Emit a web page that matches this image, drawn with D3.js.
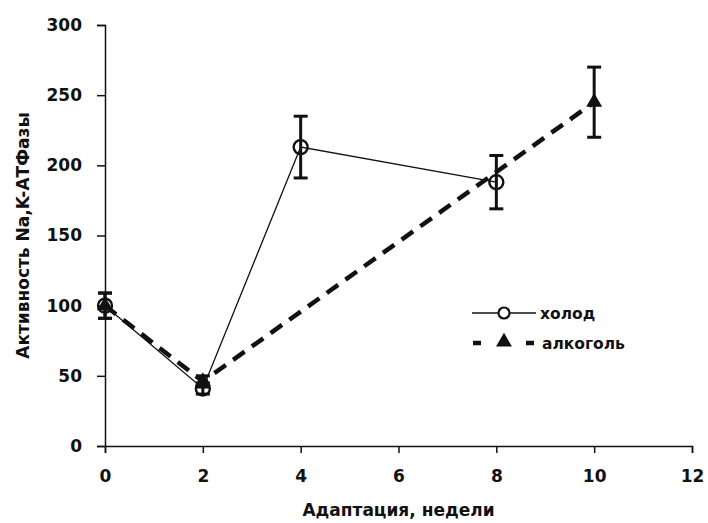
<!DOCTYPE html>
<html>
<head>
<meta charset="utf-8">
<script src="https://cdn.jsdelivr.net/npm/d3@7"></script>
<style>
  body { margin:0; background:#fff; }
  text { font-family: "DejaVu Sans", Verdana, sans-serif; font-weight:bold; fill:#111; }
</style>
</head>
<body>
<div id="chart"></div>
<script>
// data
var coldWeeks = [0, 2, 4, 8];
var coldValues = [100, 41, 213, 188];
var coldErr = [9, 4, 22, 19];

var alcWeeks = [0, 2, 10];
var alcValues = [100, 46, 245];
var alcErr = [9, 4, 25];

var xTicks = [0, 2, 4, 6, 8, 10, 12];
var yTicks = [0, 50, 100, 150, 200, 250, 300];

var width = 708, height = 523;
var margin = {left:105, right:16, top:25, bottom:77};

var svg = d3.select('#chart').append('svg')
    .attr('width', width).attr('height', height);

var x = d3.scaleLinear().domain([0, 12]).range([margin.left, width - margin.right]);
var y = d3.scaleLinear().domain([0, 300]).range([height - margin.bottom, margin.top]);

// axes
var xAxis = svg.append('g')
    .attr('transform', 'translate(0,' + y(0) + ')')
    .call(d3.axisBottom(x).tickValues(xTicks).tickSize(7).tickPadding(17));
var yAxis = svg.append('g')
    .attr('transform', 'translate(' + x(0) + ',0)')
    .call(d3.axisLeft(y).tickValues(yTicks).tickSize(8).tickPadding(15));

[xAxis, yAxis].forEach(function(a){
    a.select('.domain').attr('stroke', '#111').attr('stroke-width', 1.5);
    a.selectAll('.tick line').attr('stroke', '#111').attr('stroke-width', 1.5);
    a.selectAll('.tick text').style('font-size', '17px')
        .style('font-family', '"DejaVu Sans", Verdana, sans-serif')
        .style('font-weight', 'bold').attr('fill', '#111');
});

// axis titles
svg.append('text')
    .attr('x', (x(0) + x(12)) / 2).attr('y', 516)
    .attr('text-anchor', 'middle').style('font-size', '17px')
    .text('Адаптация, недели');
svg.append('text')
    .attr('transform', 'translate(29,' + ((y(0) + y(300)) / 2) + ') rotate(-90)')
    .attr('text-anchor', 'middle').style('font-size', '17px')
    .text('Активность Na,K-АТФазы');

var cold = coldWeeks.map(function(w, i){ return {w:w, v:coldValues[i], e:coldErr[i]}; });
var alc = alcWeeks.map(function(w, i){ return {w:w, v:alcValues[i], e:alcErr[i]}; });

var line = d3.line().x(function(d){ return x(d.w); }).y(function(d){ return y(d.v); });

// alcohol dashed line
svg.append('path').datum(alc)
    .attr('d', line).attr('fill', 'none')
    .attr('stroke', '#111').attr('stroke-width', 4.5)
    .attr('stroke-dasharray', '14,9');

// cold thin line
svg.append('path').datum(cold)
    .attr('d', line).attr('fill', 'none')
    .attr('stroke', '#111').attr('stroke-width', 1.3);

// error bars
function errorBars(data) {
    var g = svg.append('g').attr('stroke', '#111').attr('stroke-width', 3);
    g.selectAll('line.v').data(data).enter().append('line')
        .attr('x1', function(d){ return x(d.w); }).attr('x2', function(d){ return x(d.w); })
        .attr('y1', function(d){ return y(d.v - d.e); }).attr('y2', function(d){ return y(d.v + d.e); });
    [-1, 1].forEach(function(s){
        g.selectAll('line.c' + s).data(data).enter().append('line')
            .attr('x1', function(d){ return x(d.w) - 7; }).attr('x2', function(d){ return x(d.w) + 7; })
            .attr('y1', function(d){ return y(d.v + s * d.e); }).attr('y2', function(d){ return y(d.v + s * d.e); });
    });
}
errorBars(alc);
errorBars(cold);

var tri = d3.symbol().type(d3.symbolTriangle).size(110);

svg.selectAll('path.tri').data(alc).enter().append('path')
    .attr('d', tri)
    .attr('transform', function(d){ return 'translate(' + x(d.w) + ',' + y(d.v) + ')'; })
    .attr('fill', '#111');

svg.selectAll('circle.cold').data(cold).enter().append('circle')
    .attr('cx', function(d){ return x(d.w); }).attr('cy', function(d){ return y(d.v); })
    .attr('r', 7).attr('fill', 'none').attr('stroke', '#111').attr('stroke-width', 2.4);

// legend
var lg = svg.append('g').attr('transform', 'translate(472,313)');
lg.append('line').attr('x1', 0).attr('x2', 64).attr('y1', 0).attr('y2', 0)
    .attr('stroke', '#111').attr('stroke-width', 1.3);
lg.append('circle').attr('cx', 32).attr('cy', 0).attr('r', 5.5)
    .attr('fill', '#fff').attr('stroke', '#111').attr('stroke-width', 2.2);
lg.append('text').attr('x', 68).attr('y', 6).style('font-size', '15.5px').text('холод');

lg.append('line').attr('x1', 1).attr('x2', 62).attr('y1', 30).attr('y2', 30)
    .attr('stroke', '#111').attr('stroke-width', 4.5).attr('stroke-dasharray', '8,45,8');
lg.append('path').attr('d', tri).attr('transform', 'translate(32,29)').attr('fill', '#111');
lg.append('text').attr('x', 70).attr('y', 36).style('font-size', '15.5px').text('алкоголь');
</script>
</body>
</html>
